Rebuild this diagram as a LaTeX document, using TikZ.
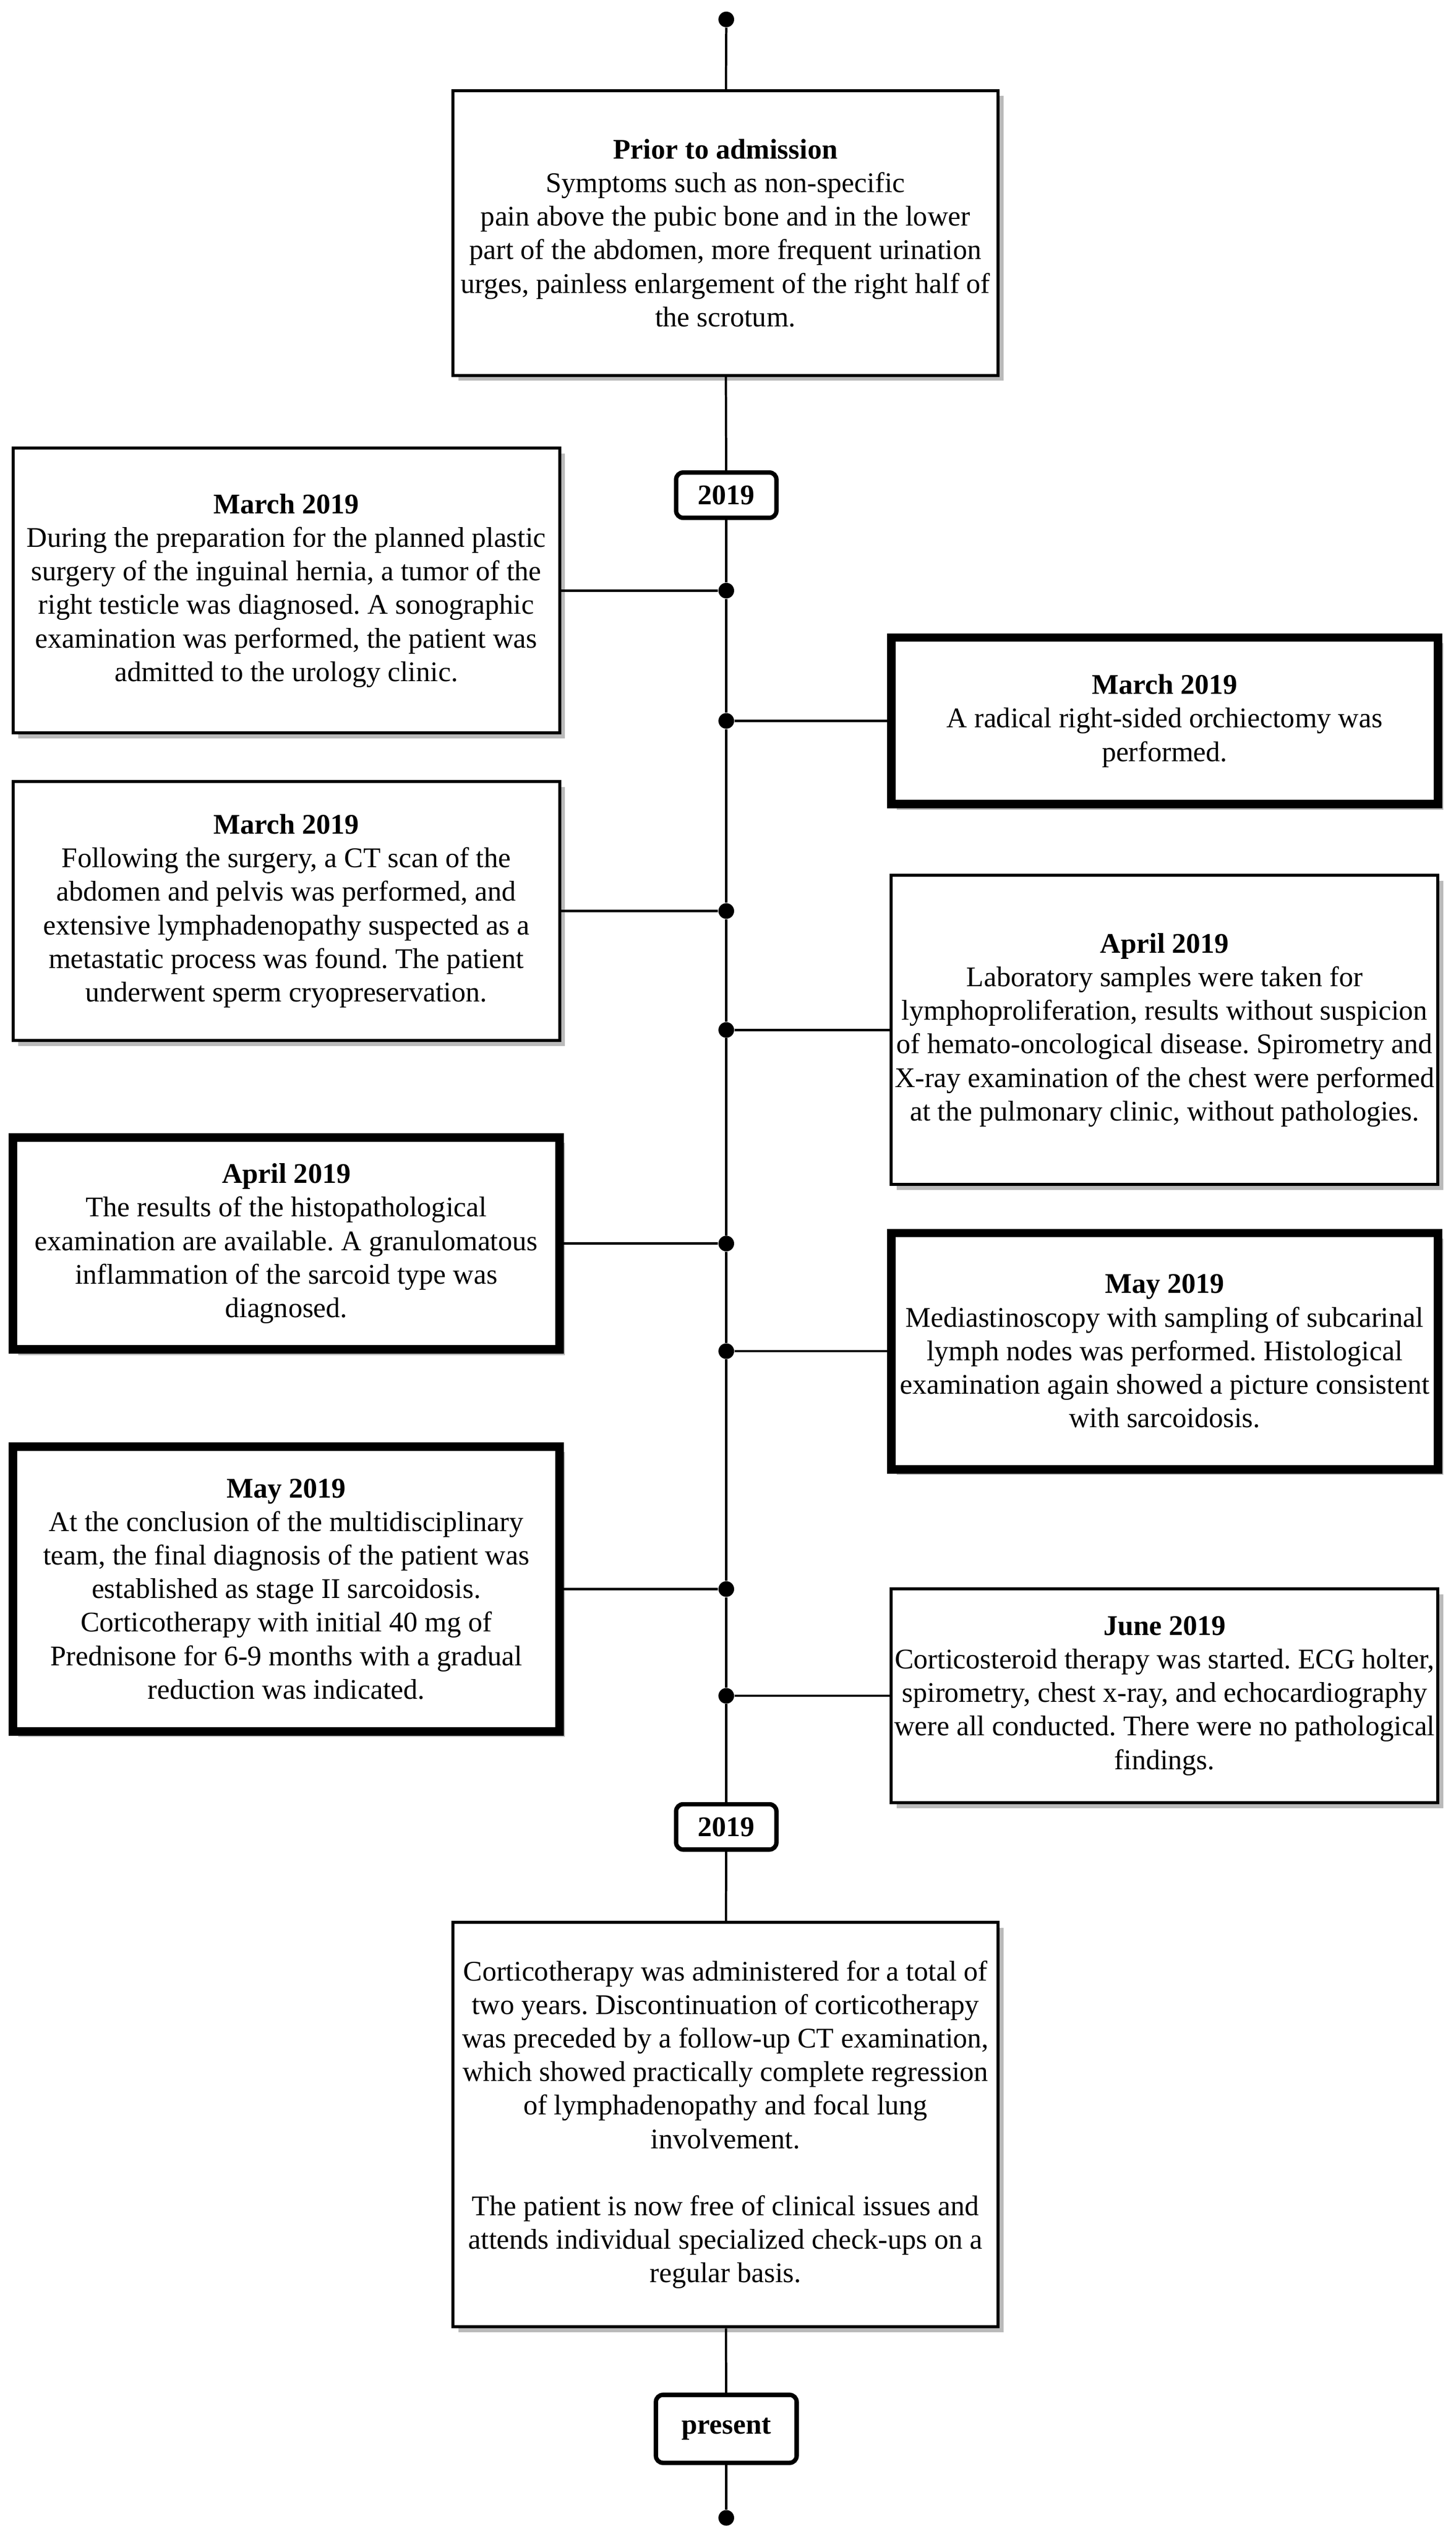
\documentclass[tikz,border=0pt]{standalone}
\usepackage{fontspec}
\setmainfont{Liberation Serif}
\usetikzlibrary{shadows}
\frenchspacing

\tikzset{
    box/.style={draw, rectangle, line width=1.6pt, fill=white, align=center, inner sep=0pt,
        drop shadow={shadow xshift=1mm, shadow yshift=-1mm, fill=black!27, opacity=1},
        font=\fontsize{15}{17.7}\selectfont},
    heavybox/.style={box, line width=4.5pt},
    side/.style={minimum width=101.4mm},
    yearbox/.style={draw, rectangle, rounded corners=1.3mm, line width=2.3pt, fill=white,
        inner sep=0pt, font=\fontsize{15}{17.7}\selectfont\bfseries},
    dot/.style={circle, fill=black, inner sep=0pt, minimum size=2.9mm},
    axis/.style={line width=1.2pt}
}

\begin{document}
\begin{tikzpicture}[x=0.3mm, y=-0.3mm]
    \useasboundingbox (0,0) rectangle (900,1566);

    \node[dot] (top) at (449,12) {};
    \node[box, minimum width=101.1mm, minimum height=52.8mm] (prior) at (448.5,144)
        {\textbf{Prior to admission}\\Symptoms such as non-specific\\pain above the pubic bone and in the lower\\part of the abdomen, more frequent urination\\urges, painless enlargement of the right half of\\the scrotum.};
    \node[yearbox, minimum width=18.6mm, minimum height=8.4mm] (year1) at (449,306) {2019};

    \node[box, side, minimum height=52.8mm] (mar1) at (177,365)
        {\textbf{March 2019}\\During the preparation for the planned plastic\\surgery of the inguinal hernia, a tumor of the\\right testicle was diagnosed. A sonographic\\examination was performed, the patient was\\admitted to the urology clinic.};
    \node[heavybox, side, minimum height=30.9mm] (mar2) at (720,445.5)
        {\textbf{March 2019}\\A radical right-sided orchiectomy was\\performed.};
    \node[box, side, minimum height=48mm] (mar3) at (177,563)
        {\textbf{March 2019}\\Following the surgery, a CT scan of the\\abdomen and pelvis was performed, and\\extensive lymphadenopathy suspected as a\\metastatic process was found. The patient\\underwent sperm cryopreservation.};
    \node[box, side, minimum height=57.3mm] (apr1) at (720,636.5)
        {\textbf{April 2019}\\Laboratory samples were taken for\\lymphoproliferation, results without suspicion\\of hemato-oncological disease. Spirometry and\\X-ray examination of the chest were performed\\at the pulmonary clinic, without pathologies.};
    \node[heavybox, side, minimum height=39.3mm] (apr2) at (177,768.5)
        {\textbf{April 2019}\\The results of the histopathological\\examination are available. A granulomatous\\inflammation of the sarcoid type was\\diagnosed.};
    \node[heavybox, side, minimum height=43.8mm] (may1) at (720,835)
        {\textbf{May 2019}\\Mediastinoscopy with sampling of subcarinal\\lymph nodes was performed. Histological\\examination again showed a picture consistent\\with sarcoidosis.};
    \node[heavybox, side, minimum height=52.8mm] (may2) at (177,982)
        {\textbf{May 2019}\\At the conclusion of the multidisciplinary\\team, the final diagnosis of the patient was\\established as stage II sarcoidosis.\\Corticotherapy with initial 40 mg of\\Prednisone for 6-9 months with a gradual\\reduction was indicated.};
    \node[box, side, minimum height=39.6mm] (jun) at (720,1048)
        {\textbf{June 2019}\\Corticosteroid therapy was started. ECG holter,\\spirometry, chest x-ray, and echocardiography\\were all conducted. There were no pathological\\findings.};

    \node[yearbox, minimum width=18.6mm, minimum height=8.4mm] (year2) at (449,1129) {2019};
    \node[box, minimum width=101.1mm, minimum height=75mm] (later) at (448.5,1313)
        {Corticotherapy was administered for a total of\\two years. Discontinuation of corticotherapy\\was preceded by a follow-up CT examination,\\which showed practically complete regression\\of lymphadenopathy and focal lung\\involvement.\\[17.7pt]The patient is now free of clinical issues and\\attends individual specialized check-ups on a\\regular basis.};
    \node[yearbox, minimum width=26.1mm, minimum height=12.6mm] (present) at (449,1501) {present};
    \node[dot] (bottom) at (449,1556) {};

    \node[dot] (d1) at (449,365) {};
    \node[dot] (d2) at (449,445.5) {};
    \node[dot] (d3) at (449,563) {};
    \node[dot] (d4) at (449,636.5) {};
    \node[dot] (d5) at (449,768.5) {};
    \node[dot] (d6) at (449,835) {};
    \node[dot] (d7) at (449,982) {};
    \node[dot] (d8) at (449,1048) {};

    \draw[axis] (top) -- (prior);
    \draw[axis] (prior) -- (year1);
    \draw[axis] (year1) -- (d1) -- (d2) -- (d3) -- (d4) -- (d5) -- (d6) -- (d7) -- (d8) -- (year2);
    \draw[axis] (year2) -- (later);
    \draw[axis] (later) -- (present);
    \draw[axis] (present) -- (bottom);

    \draw[axis] (mar1) -- (d1);
    \draw[axis] (mar2) -- (d2);
    \draw[axis] (mar3) -- (d3);
    \draw[axis] (apr1) -- (d4);
    \draw[axis] (apr2) -- (d5);
    \draw[axis] (may1) -- (d6);
    \draw[axis] (may2) -- (d7);
    \draw[axis] (jun) -- (d8);
\end{tikzpicture}
\end{document}
